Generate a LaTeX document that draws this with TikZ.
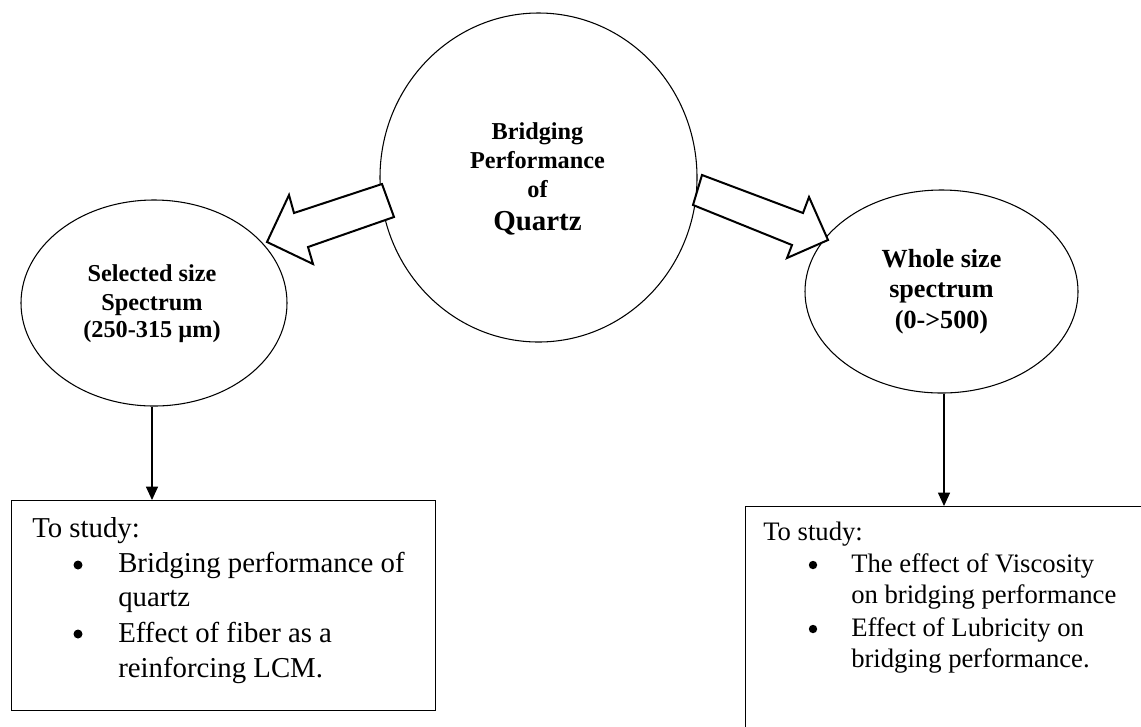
\documentclass[tikz,border=0pt]{standalone}
\usepackage{fontspec}
\setmainfont{Liberation Serif}
\usetikzlibrary{shapes.geometric,arrows.meta}
\tikzset{
  bubble/.style={draw, ellipse, line width=0.8pt, inner sep=0pt},
  hollowarrow/.style={draw, fill=white, line width=1.5pt, line join=miter},
  studybox/.style={draw, line width=1pt, rectangle, inner sep=0pt, anchor=north west},
  connector/.style={line width=0.8pt, -{Triangle[length=10pt,width=9pt]}},
  bubtext/.style={font=\bfseries\fontsize{18.2}{21}\selectfont, anchor=base, inner sep=0pt},
  lefttext/.style={font=\fontsize{21.6}{25}\selectfont, anchor=base west, inner sep=0pt},
  righttext/.style={font=\fontsize{20}{24}\selectfont, anchor=base west, inner sep=0pt},
  dotmark/.style={fill=black},
}
\begin{document}
\begin{tikzpicture}[x=0.75pt,y=-0.75pt]
\useasboundingbox (0,0) rectangle (1141,726);
\clip (0,0) rectangle (1141,726);
\fill[white] (0,0) rectangle (1141,726);

% main circle
\node[bubble, minimum width=237.75pt, minimum height=246.75pt] (main) at (538.5,177.5) {};
\node[bubtext] (t1) at (537.5,139) {Bridging};
\node[bubtext] (t2) at (537.5,168) {Performance};
\node[bubtext] (t3) at (537.5,197) {of};
\node[bubtext, font=\bfseries\fontsize{21.7}{25}\selectfont] (t4) at (537.5,230) {Quartz};

% left ellipse
\node[bubble, minimum width=199.5pt, minimum height=154.5pt] (sel) at (154,303) {};
\node[bubtext] (s1) at (152,281) {Selected size};
\node[bubtext] (s2) at (152,310) {Spectrum};
\node[bubtext] (s3) at (152,337) {(250-315 µm)};

% right ellipse
\node[bubble, minimum width=204.75pt, minimum height=152.25pt] (whole) at (941.5,291.5) {};
\node[bubtext, font=\bfseries\fontsize{19.6}{23}\selectfont] (w1) at (941.5,267) {Whole size};
\node[bubtext, font=\bfseries\fontsize{19.6}{23}\selectfont] (w2) at (941.5,297) {spectrum};
\node[bubtext, font=\bfseries\fontsize{19.6}{23}\selectfont] (w3) at (941.5,328) {(0->500)};

% hollow arrows
\coordinate (la1) at (382,184);
\coordinate (la2) at (294,213);
\coordinate (la3) at (289,195);
\coordinate (la4) at (267,242);
\coordinate (la5) at (313,264);
\coordinate (la6) at (308,247);
\coordinate (la7) at (394,217);
\draw[hollowarrow] (la1) -- (la2) -- (la3) -- (la4) -- (la5) -- (la6) -- (la7) -- cycle;

\coordinate (ra1) at (702,175);
\coordinate (ra2) at (803,213);
\coordinate (ra3) at (809,197);
\coordinate (ra4) at (828,240);
\coordinate (ra5) at (787,258);
\coordinate (ra6) at (792,245);
\coordinate (ra7) at (693,205);
\draw[hollowarrow] (ra1) -- (ra2) -- (ra3) -- (ra4) -- (ra5) -- (ra6) -- (ra7) -- cycle;

% boxes
\node[studybox, minimum width=318pt, minimum height=157.5pt] (lbox) at (11,500) {};
\node[studybox, minimum width=315pt, minimum height=180pt] (rbox) at (745,506) {};

% connectors
\draw[connector] (sel.south -| lbox.north west) ++(141,0) coordinate (lc) -- (lc |- lbox.north);
\draw[connector] (whole.south) ++(2.5,0) coordinate (rc) -- (rc |- rbox.north);

% left box text
\node[lefttext] (l0) at (32,537) {To study:};
\fill[dotmark] (78,565) circle (4.5);
\node[lefttext] (l1) at (118,572) {Bridging performance of};
\node[lefttext] (l2) at (118,606) {quartz};
\fill[dotmark] (78,634) circle (4.5);
\node[lefttext] (l3) at (118,642) {Effect of fiber as a};
\node[lefttext] (l4) at (118,677) {reinforcing LCM.};

% right box text
\node[righttext] (r0) at (763,540) {To study:};
\fill[dotmark] (813,565) circle (4.2);
\node[righttext] (r1) at (851,572) {The effect of Viscosity};
\node[righttext] (r2) at (851,603) {on bridging performance};
\fill[dotmark] (813,629) circle (4.2);
\node[righttext] (r3) at (851,636) {Effect of Lubricity on};
\node[righttext] (r4) at (851,667) {bridging performance.};
\end{tikzpicture}
\end{document}
